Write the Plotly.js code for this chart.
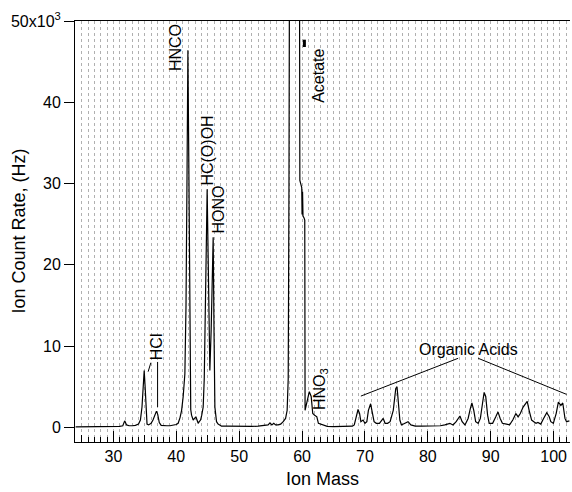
<!DOCTYPE html>
<html><head><meta charset="utf-8">
<script src="https://cdn.plot.ly/plotly-3.0.1.min.js"></script>
<style>html,body{margin:0;padding:0;background:#fff}</style>
</head><body><div id="chart" style="width:572px;height:492px"></div>
<script>
// Ion mass (amu)
const ionMass = [24.0,25.0,26.0,27.0,28.0,29.0,30.0,31.0,31.5,31.8,32.1,32.5,33.0,33.5,34.0,34.3,34.55,34.75,34.9,35.05,35.2,35.35,35.6,36.0,36.3,36.6,36.85,37.05,37.3,37.6,38.0,38.5,39.0,39.5,40.0,40.3,40.6,40.85,41.1,41.37,41.55,41.7,41.85,41.97,42.1,42.2,42.3,42.43,42.69,42.9,43.12,43.3,43.48,43.65,43.86,44.05,44.28,44.45,44.6,44.75,44.91,45.1,45.34,45.55,45.72,45.87,46.0,46.14,46.4,46.65,46.9,47.2,48,49,50,51,52,53,54,54.6,54.9,55.2,55.5,55.8,56.2,56.6,57.0,57.38,57.63,57.8,57.92,58.06,59.54,59.65,59.95,60.0,60.08,60.15,60.3,60.43,60.48,60.6,60.9,61.15,61.45,61.7,62.0,62.35,62.6,63.0,63.5,64,65,66,67,68,68.3,68.6,68.9,69.15,69.35,69.7,70.0,70.3,70.55,70.9,71.2,71.45,71.8,72.3,72.9,73.2,73.6,74.0,74.5,74.9,75.1,75.35,75.55,75.8,76.3,76.85,77.3,78,79,80,81,82,82.7,83.5,84.0,84.5,85.1,85.45,85.9,86.4,86.75,87.0,87.3,87.6,88.0,88.35,88.7,88.95,89.2,89.5,89.75,90.3,90.8,91.15,91.5,91.85,92.5,93.0,93.5,94.0,94.35,94.7,95.15,95.8,96.1,96.5,96.85,97.2,97.5,97.95,98.4,98.9,99.3,99.55,99.95,100.4,100.75,101.15,101.45,101.8,102.05,102.5];
// Ion count rate (x10^3 Hz)
const countRate = [0.07,0.08,0.06,0.08,0.1,0.08,0.1,0.12,0.2,0.8,0.3,0.2,0.2,0.25,0.4,0.9,2.5,5.5,7.0,5.0,2.0,0.4,0.3,0.5,0.9,1.6,2.0,1.6,0.6,0.25,0.2,0.2,0.2,0.25,0.35,0.5,1.2,2.1,3.8,6.6,15,30,46.4,35,15,5,2.2,1.5,0.9,1.1,1.3,0.9,0.5,0.7,0.9,1.5,2.5,6,12,21,29.3,18,7.0,12,19,23.4,12,2.5,0.7,0.4,0.3,0.15,0.15,0.12,0.12,0.15,0.12,0.15,0.2,0.3,0.55,0.3,0.5,0.3,0.3,0.4,0.7,1.1,2.1,6,30,80,80,30.4,29.5,26.2,29.0,26.0,25.8,25.5,2.1,2.5,3.8,4.4,3.8,1.7,1.5,1.3,0.5,0.4,0.2,0.12,0.1,0.12,0.1,0.15,0.3,1.3,2.2,1.7,0.7,0.9,0.5,0.7,2.1,2.9,1.7,0.7,0.5,0.5,1.1,0.5,0.5,0.7,2.1,4.8,5.0,3.0,0.9,0.3,0.5,0.7,0.3,0.15,0.15,0.15,0.2,0.2,0.3,0.5,0.3,0.7,1.4,0.7,0.3,1.1,2.3,3.0,2.1,0.7,0.5,1.1,3.0,4.3,3.8,1.5,0.5,0.5,1.3,1.9,1.1,0.5,0.4,0.3,0.9,1.7,1.3,1.7,2.5,3.2,2.1,0.9,0.7,0.5,0.6,0.4,1.1,1.8,1.3,0.7,0.5,1.7,3.1,2.7,3.0,1.1,0.7,0.8];

const yTickVals = [0,10,20,30,40,50];
const yTickText = ['0','10','20','30','40','50x10<sup>3</sup>'];
const xTickVals = [30,40,50,60,70,80,90,100];
const xMidTickVals = [25,35,45,55,65,75,85,95];

const FONT = 'Liberation Sans, Arial, Helvetica, sans-serif';
const xRange = [23.9, 102.6];
const yRange = [-1.8, 50];

const traces = [
  {x: ionMass, y: countRate, type: 'scatter', mode: 'lines',
   line: {color: '#000', width: 1.2}, hoverinfo: 'skip', showlegend: false},
  {x: [], y: [], type: 'scatter', mode: 'lines', xaxis: 'x2', yaxis: 'y', showlegend: false, hoverinfo: 'skip'}
];

function rot(text, x, y) {
  return {text: text, x: x, y: y, xref: 'x', yref: 'y', showarrow: false,
          textangle: -90, font: {family: FONT, size: 16, color: '#000'}};
}

const layout = {
  width: 572, height: 492,
  margin: {l: 75, r: 2, t: 21, b: 50},
  paper_bgcolor: '#fff', plot_bgcolor: '#fff',
  font: {family: FONT, color: '#000', size: 16},
  showlegend: false,
  xaxis: {
    range: xRange, showline: true, linecolor: '#000', linewidth: 1, mirror: true,
    tickvals: xTickVals, ticktext: xTickVals.map(String), ticks: 'inside', ticklen: 11, tickwidth: 1, tickcolor: '#000',
    tickfont: {family: FONT, size: 16, color: '#000'},
    showgrid: true, gridcolor: '#b0b0b0', griddash: 'dot', gridwidth: 1,
    minor: {dtick: 1, tick0: 0, ticks: 'inside', ticklen: 5, tickcolor: '#000', showgrid: true, gridcolor: '#b0b0b0', griddash: 'dot', gridwidth: 1},
    zeroline: false,
    title: {text: 'Ion Mass', font: {family: FONT, size: 18, color: '#000'}, standoff: 8}
  },
  xaxis2: {
    range: xRange, overlaying: 'x', anchor: 'y', side: 'bottom',
    tickvals: xMidTickVals, ticks: 'inside', ticklen: 7, tickcolor: '#000', tickwidth: 1,
    showticklabels: false, showgrid: false, showline: false, zeroline: false
  },
  yaxis: {
    range: yRange, showline: true, linecolor: '#000', linewidth: 1,
    tickvals: yTickVals, ticktext: yTickText, ticks: 'outside', ticklen: 10, tickcolor: '#000',
    tickfont: {family: FONT, size: 16, color: '#000'},
    showgrid: false, zeroline: false
  },
  annotations: [
    {text: 'Ion Count Rate, (Hz)', xref: 'paper', yref: 'paper', x: -0.115, y: 0.5,
     xanchor: 'center', yanchor: 'middle', textangle: -90, showarrow: false,
     font: {family: FONT, size: 18, color: '#000'}},
    rot('HNCO', 40.0, 46.7),
    rot('HC(O)OH', 44.94, 34.1),
    rot('HONO', 46.8, 26.8),
    rot('Acetate', 62.62, 43.2),
    rot('HCl', 36.98, 9.9),
    rot('HNO<sub>3</sub>', 62.83, 4.7),
    {text: 'Organic Acids', x: 86.4, y: 9.6, xref: 'x', yref: 'y', showarrow: false,
     font: {family: FONT, size: 16, color: '#000'}}
  ],
  shapes: [
    {type: 'line', xref: 'x', yref: 'y', x0: 37.03, x1: 37.03, y0: 8.05, y1: 2.5, line: {color: '#000', width: 1}},
    {type: 'line', xref: 'x', yref: 'y', x0: 35.96, x1: 35.53, y0: 7.96, y1: 6.85, line: {color: '#000', width: 1}},
    {type: 'line', xref: 'x', yref: 'y', x0: 84.82, x1: 69.35, y0: 8.5, y1: 3.85, line: {color: '#000', width: 1}},
    {type: 'line', xref: 'x', yref: 'y', x0: 88.0, x1: 102.05, y0: 8.5, y1: 4.06, line: {color: '#000', width: 1}},
    {type: 'line', xref: 'x', yref: 'y', x0: 60.37, x1: 60.37, y0: 46.8, y1: 47.7, line: {color: '#000', width: 3}}
  ]
};

Plotly.newPlot('chart', traces, layout, {staticPlot: true, displayModeBar: false});
</script>
</body></html>
